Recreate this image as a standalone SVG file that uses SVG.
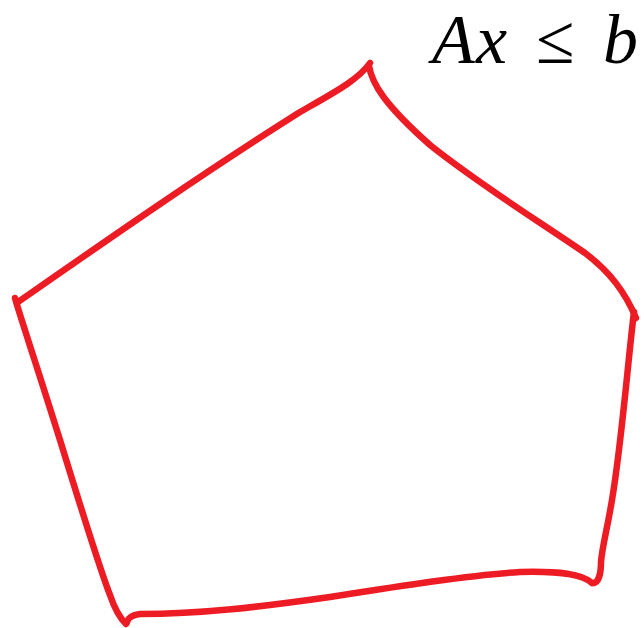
<svg xmlns="http://www.w3.org/2000/svg" width="644" height="628" viewBox="0 0 644 628">
<style>
.s{fill:none;stroke:#ED1C24;stroke-width:6.5;stroke-linecap:round;stroke-linejoin:round}
.m{font-family:"Liberation Serif","DejaVu Serif",serif;font-size:70px;fill:#000}
.i{font-style:italic}
</style>
<rect width="644" height="628" fill="#fff"/>
<g id="label">
<text class="m i" x="432" y="63">A</text>
<text class="m i" x="476" y="63">x</text>
<text class="m" x="536" y="63">≤</text>
<text class="m i" x="603" y="63">b</text>
</g>
<g id="polygon">
<path class="s" d="M18,302 C100,245 200,175 300,112 C335,92 358,80 370,63"/>
<path class="s" d="M369,66 C372,84 385,105 430,145 C480,185 540,222 585,253 C610,272 625,292 636,318"/>
<path class="s" d="M634,312 C628,360 622,440 612,500 C607,530 602,548 601,562 C601,575 598,582 594,583"/>
<path class="s" d="M592,583 C582,574 560,571 520,572 C470,575 400,586 330,597 C260,607 200,614 140,614 C132,615 128,618 127,622"/>
<path class="s" d="M15,298 C18,310 35,360 60,440 C80,505 100,570 110,595 C115,610 120,618 126,624"/>
</g>
</svg>
